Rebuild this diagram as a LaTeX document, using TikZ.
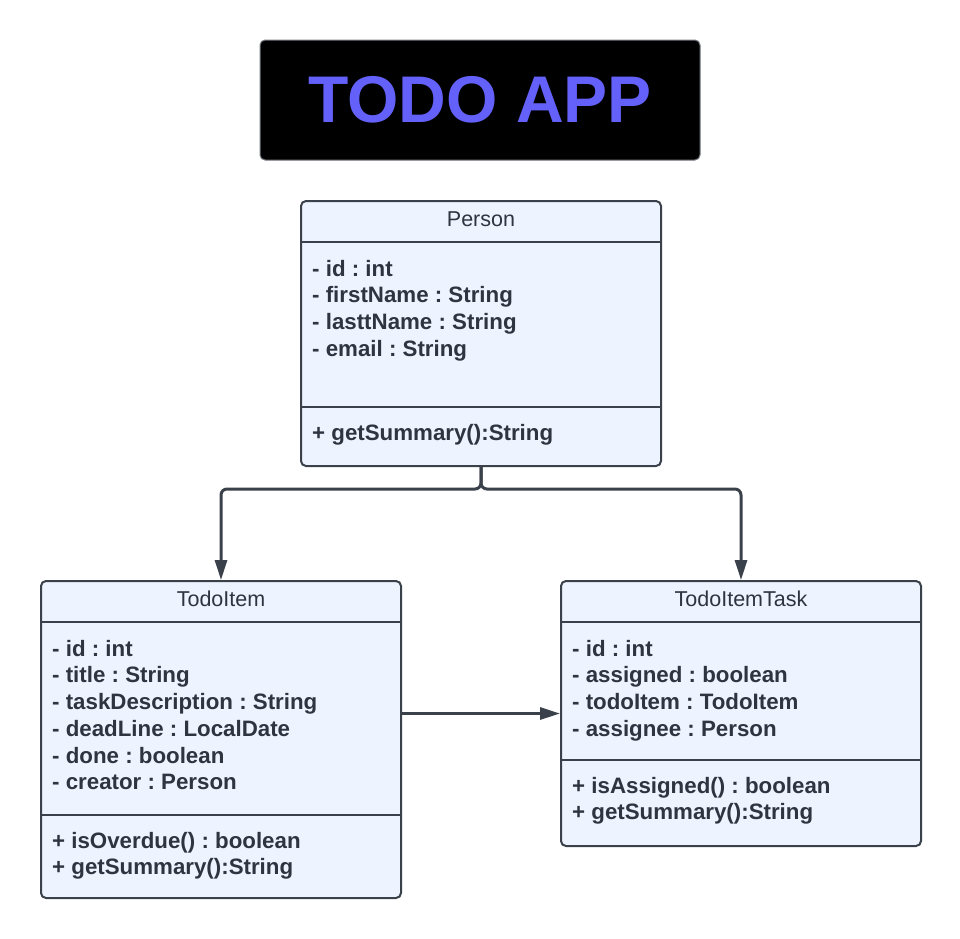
\documentclass[tikz,border=0pt]{standalone}
\usepackage{fontspec}
\setmainfont{Liberation Sans}
\usetikzlibrary{arrows.meta,calc}

\definecolor{umlfill}{HTML}{EDF4FF}
\definecolor{umldraw}{HTML}{3A414A}
\definecolor{umltext}{HTML}{2F3540}
\definecolor{titleblue}{HTML}{6461FB}

\frenchspacing

\begin{document}
\begin{tikzpicture}[
  x=1pt, y=-1pt,
  every node/.style={text=umltext},
  classbox/.style={
    draw=umldraw,
    fill=umlfill,
    line width=2pt,
    rounded corners=5pt,
    minimum width=360pt,
    anchor=north west,
  },
  classname/.style={anchor=base, inner sep=0pt, font=\fontsize{21.5}{26.7}\selectfont},
  members/.style={anchor=north west, inner sep=0pt, align=left, font=\fontsize{22.3}{26.7}\selectfont\bfseries},
  divider/.style={draw=umldraw, line width=2pt},
  link/.style={draw=umldraw, line width=3pt, rounded corners=6pt, -{Triangle[length=20pt,width=12pt]}},
  ]
  \fill[white] (0,0) rectangle (960,938);
  \useasboundingbox (0,0) rectangle (960,938);

  % title
  \node[draw=umldraw!70, fill=black, rounded corners=5pt, line width=1pt,
    minimum width=440pt, minimum height=120pt,
    text=titleblue, font=\fontsize{66}{70}\selectfont\bfseries] (title) at (480,100) {TODO APP};

  % Person
  \node[classbox, minimum height=265pt] (person) at (300,200) {};
  \node[classname] (person-name) at ($(person.north)+(0,26)$) {Person};
  \draw[divider] ($(person.north west)+(0,42)$) -- ($(person.north east)+(0,42)$);
  \draw[divider] ($(person.north west)+(0,207)$) -- ($(person.north east)+(0,207)$);
  \node[members] (person-attrs) at ($(person.north west)+(12,58)$)
    {\rule{0pt}{18pt}- id : int\\- firstName : String\\- lasttName : String\\- email : String};
  \node[members] (person-ops) at ($(person.north west)+(12,222)$)
    {\rule{0pt}{18pt}+ getSummary():String};

  % TodoItem
  \node[classbox, minimum height=317pt] (todoitem) at (40,580) {};
  \node[classname] (todoitem-name) at ($(todoitem.north)+(0,26)$) {TodoItem};
  \draw[divider] ($(todoitem.north west)+(0,42)$) -- ($(todoitem.north east)+(0,42)$);
  \draw[divider] ($(todoitem.north west)+(0,235)$) -- ($(todoitem.north east)+(0,235)$);
  \node[members] (todoitem-attrs) at ($(todoitem.north west)+(12,58)$)
    {\rule{0pt}{18pt}- id : int\\- title : String\\- taskDescription : String\\- deadLine : LocalDate\\- done : boolean\\- creator : Person};
  \node[members] (todoitem-ops) at ($(todoitem.north west)+(12,250)$)
    {\rule{0pt}{18pt}+ isOverdue() : boolean\\+ getSummary():String};

  % TodoItemTask
  \node[classbox, minimum height=265pt] (todotask) at (560,580) {};
  \node[classname] (todotask-name) at ($(todotask.north)+(0,26)$) {TodoItemTask};
  \draw[divider] ($(todotask.north west)+(0,42)$) -- ($(todotask.north east)+(0,42)$);
  \draw[divider] ($(todotask.north west)+(0,180)$) -- ($(todotask.north east)+(0,180)$);
  \node[members] (todotask-attrs) at ($(todotask.north west)+(12,58)$)
    {\rule{0pt}{18pt}- id : int\\- assigned : boolean\\- todoItem : TodoItem\\- assignee : Person};
  \node[members] (todotask-ops) at ($(todotask.north west)+(12,195)$)
    {\rule{0pt}{18pt}+ isAssigned() : boolean\\+ getSummary():String};

  % connectors
  \draw[link] (person.south) -- ++(0,22) -| (todoitem.north);
  \draw[link] (person.south) -- ++(0,22) -| (todotask.north);
  \draw[link] (todoitem.east |- todotask.west) -- (todotask.west);
\end{tikzpicture}
\end{document}
